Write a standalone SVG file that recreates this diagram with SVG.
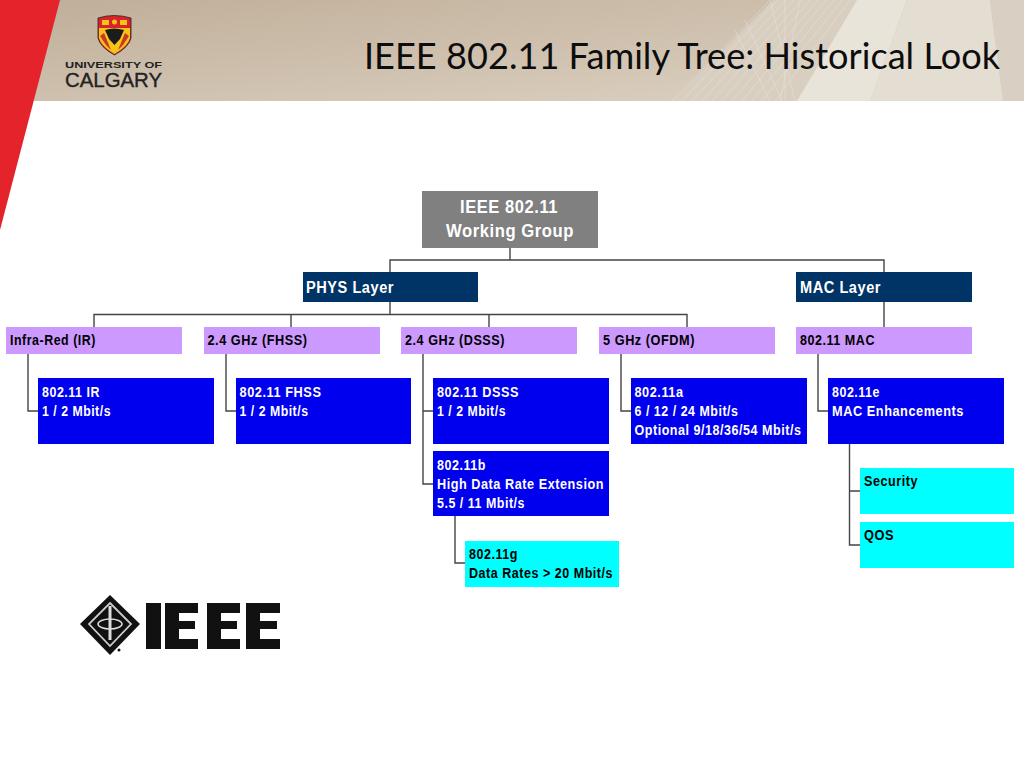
<svg xmlns="http://www.w3.org/2000/svg" width="1024" height="768" viewBox="0 0 1024 768">
<defs>
<linearGradient id="band" x1="0" y1="0" x2="1" y2="0.1"><stop offset="0" stop-color="#c2b29d"/><stop offset="0.6" stop-color="#d0c2b0"/><stop offset="1" stop-color="#d8cdbe"/></linearGradient>
<linearGradient id="bandv" x1="0" y1="0" x2="0" y2="1"><stop offset="0" stop-color="#b9a68e" stop-opacity=".25"/><stop offset="1" stop-color="#e6ddd0" stop-opacity=".3"/></linearGradient>
</defs>
<style>
text{font-family:"Liberation Sans",Arial,sans-serif;font-weight:700;font-size:14px;letter-spacing:.6px}
.w{fill:#fff}.k{fill:#000}
.lines{fill:none;stroke:#444;stroke-width:1.4}
.b{fill:#0000ee}.c{fill:#00ffff}.p{fill:#cc99ff}.n{fill:#003366}
.mesh{fill:none;stroke:#efe9df;stroke-width:.6;opacity:.65}
</style>
<rect width="1024" height="768" fill="#fff"/>
<g id="header-band">
<rect x="30" width="994" height="101" fill="url(#band)"/>
<rect x="30" width="994" height="101" fill="url(#bandv)"/>
<polygon points="773,0 857,0 797,101 673,101" fill="#d9cfc1"/>
<polygon points="857,0 907,0 870,101 797,101" fill="#e9e4da"/>
<polygon points="907,0 990,0 1003,101 870,101" fill="#e4ddd1"/>
<polygon points="990,0 1024,0 1024,101 1003,101" fill="#d9d0c3"/>
<path class="mesh" d="M770,0L672,101M778,0L682,101M786,0L692,101M794,0L702,101M802,0L712,101M810,0L722,101M818,0L732,101M826,0L742,101M834,0L752,101M842,0L762,101M850,0L775,101M735,30L770,101M745,20L782,101M770,0L795,101M785,0L785,101M800,0L780,101"/>
</g>
<polygon points="0,0 60,0 0,230" fill="#e4232b"/>
<text x="364" y="69" textLength="636" lengthAdjust="spacingAndGlyphs" style="font-family:'Lato','Noto Sans',sans-serif;font-weight:400;font-size:37px;letter-spacing:0" fill="#0d0d0d">IEEE 802.11 Family Tree: Historical Look</text>
<g id="ucalgary-logo">
<path d="M98,18 Q114,13 131,18 V38 Q129,47 114.500,55 Q100,47 98,38Z" fill="#d9232a" stroke="#222" stroke-width=".8"/>
<path d="M99,28 H130 V38 Q128,46 114.500,54 Q101,46 99,38Z" fill="#f6c417"/>
<path d="M102,20h7v5h-7zM120,20h7v5h-7z" fill="#f6c417"/>
<circle cx="114.500" cy="22" r="2.500" fill="#f6c417"/>
<path d="M100,36L106,45L111,50L104,33ZM129,36L123,45L118,50L125,33Z" fill="#c8372b"/>
<path d="M105,30 Q114,27 124,30 L120,39 L114.500,45 L109,39Z" fill="#1c1c1c"/>
<text x="65" y="67.500" textLength="97" lengthAdjust="spacingAndGlyphs" style="font-size:9.500px;letter-spacing:0" fill="#222">UNIVERSITY OF</text>
<text x="65" y="86.500" textLength="97" lengthAdjust="spacingAndGlyphs" style="font-weight:400;font-size:19.500px;letter-spacing:0;stroke:#222;stroke-width:.35" fill="#222">CALGARY</text>
</g>
<g id="connectors" class="lines">
<path d="M510,248V260M390,272V260H884V272"/>
<path d="M390,302V314.500M94,327V314.500H687V327M291,314.500V327M489,314.500V327M884,302V327"/>
<path d="M28,354V411H38M226,354V411H236M423,354V484H433M423,411H433M621,354V411H631M818,354V411H828"/>
<path d="M455,516V563H465M849.500,444V491H860M849.500,491V545H860"/>
</g>
<g id="working-group"><rect x="422" y="191" width="176" height="57" fill="#808080"/><text class="w" x="460" y="213" textLength="98" lengthAdjust="spacingAndGlyphs" style="font-size:18px">IEEE 802.11</text><text class="w" x="446" y="237" textLength="128" lengthAdjust="spacingAndGlyphs" style="font-size:18px">Working Group</text></g>
<g id="phys"><rect x="303" y="272" width="175" height="30" class="n"/><text class="w" x="306" y="293" textLength="88" lengthAdjust="spacingAndGlyphs" style="font-size:16px">PHYS Layer</text></g>
<g id="mac"><rect x="796" y="272" width="176" height="30" class="n"/><text class="w" x="800" y="293" textLength="81" lengthAdjust="spacingAndGlyphs" style="font-size:16px">MAC Layer</text></g>
<g id="ir"><rect x="6" y="327" width="176" height="27" class="p"/><text class="k" x="10" y="345" textLength="86" lengthAdjust="spacingAndGlyphs">Infra-Red (IR)</text></g>
<g id="fhss"><rect x="204" y="327" width="176" height="27" class="p"/><text class="k" x="207.500" y="345" textLength="100" lengthAdjust="spacingAndGlyphs">2.4 GHz (FHSS)</text></g>
<g id="dsss"><rect x="401" y="327" width="176" height="27" class="p"/><text class="k" x="405" y="345" textLength="100" lengthAdjust="spacingAndGlyphs">2.4 GHz (DSSS)</text></g>
<g id="ofdm"><rect x="599" y="327" width="176" height="27" class="p"/><text class="k" x="603" y="345" textLength="92" lengthAdjust="spacingAndGlyphs">5 GHz (OFDM)</text></g>
<g id="mac80211"><rect x="796" y="327" width="176" height="27" class="p"/><text class="k" x="800" y="345" textLength="75" lengthAdjust="spacingAndGlyphs">802.11 MAC</text></g>
<g id="n-ir"><rect x="38" y="378" width="176" height="66" class="b"/><text class="w" x="42" y="397" textLength="58" lengthAdjust="spacingAndGlyphs">802.11 IR</text><text class="w" x="42" y="416" textLength="69" lengthAdjust="spacingAndGlyphs">1 / 2 Mbit/s</text></g>
<g id="n-fhss"><rect x="236" y="378" width="175" height="66" class="b"/><text class="w" x="239.500" y="397" textLength="82" lengthAdjust="spacingAndGlyphs">802.11 FHSS</text><text class="w" x="239.500" y="416" textLength="69" lengthAdjust="spacingAndGlyphs">1 / 2 Mbit/s</text></g>
<g id="n-dsss"><rect x="433" y="378" width="176" height="66" class="b"/><text class="w" x="437" y="397" textLength="82" lengthAdjust="spacingAndGlyphs">802.11 DSSS</text><text class="w" x="437" y="416" textLength="69" lengthAdjust="spacingAndGlyphs">1 / 2 Mbit/s</text></g>
<g id="n-a"><rect x="631" y="378" width="176" height="66" class="b"/><text class="w" x="634.500" y="397" textLength="49" lengthAdjust="spacingAndGlyphs">802.11a</text><text class="w" x="634.500" y="416" textLength="104" lengthAdjust="spacingAndGlyphs">6 / 12 / 24 Mbit/s</text><text class="w" x="634.500" y="435" textLength="167" lengthAdjust="spacingAndGlyphs">Optional 9/18/36/54 Mbit/s</text></g>
<g id="n-e"><rect x="828" y="378" width="176" height="66" class="b"/><text class="w" x="832" y="397" textLength="48" lengthAdjust="spacingAndGlyphs">802.11e</text><text class="w" x="832" y="416" textLength="132" lengthAdjust="spacingAndGlyphs">MAC Enhancements</text></g>
<g id="n-b"><rect x="433" y="451" width="176" height="65" class="b"/><text class="w" x="437" y="470" textLength="49" lengthAdjust="spacingAndGlyphs">802.11b</text><text class="w" x="437" y="489" textLength="167" lengthAdjust="spacingAndGlyphs">High Data Rate Extension</text><text class="w" x="437" y="508" textLength="88" lengthAdjust="spacingAndGlyphs">5.5 / 11 Mbit/s</text></g>
<g id="n-g"><rect x="465" y="541" width="154" height="46" class="c"/><text class="k" x="469" y="559" textLength="49" lengthAdjust="spacingAndGlyphs">802.11g</text><text class="k" x="469" y="578" textLength="144" lengthAdjust="spacingAndGlyphs">Data Rates &gt; 20 Mbit/s</text></g>
<g id="n-sec"><rect x="860" y="468" width="154" height="46" class="c"/><text class="k" x="864" y="486" textLength="54" lengthAdjust="spacingAndGlyphs">Security</text></g>
<g id="n-qos"><rect x="860" y="522" width="154" height="46" class="c"/><text class="k" x="864" y="540" textLength="30" lengthAdjust="spacingAndGlyphs">QOS</text></g>
<g id="ieee-logo" fill="#111">
<polygon points="110,595 140,624 110,655 80,624"/>
<polygon points="110,603 131,624 110,646 89,624" fill="none" stroke="#ccc" stroke-width="1.800"/>
<path d="M110,606V640" stroke="#ddd" stroke-width="3"/>
<ellipse cx="110" cy="624" rx="12" ry="5" fill="none" stroke="#ddd" stroke-width="1.500"/>
<circle cx="119" cy="650" r="1.500"/>
<path d="M146,603h15v46h-15z"/>
<path d="M165,603h33v10h-19v8h16v8h-16v10h19v10h-33z"/>
<path d="M207,603h33v10h-19v8h16v8h-16v10h19v10h-33z"/>
<path d="M246,603h34v10h-20v8h17v8h-17v10h20v10h-34z"/>
</g>
</svg>
